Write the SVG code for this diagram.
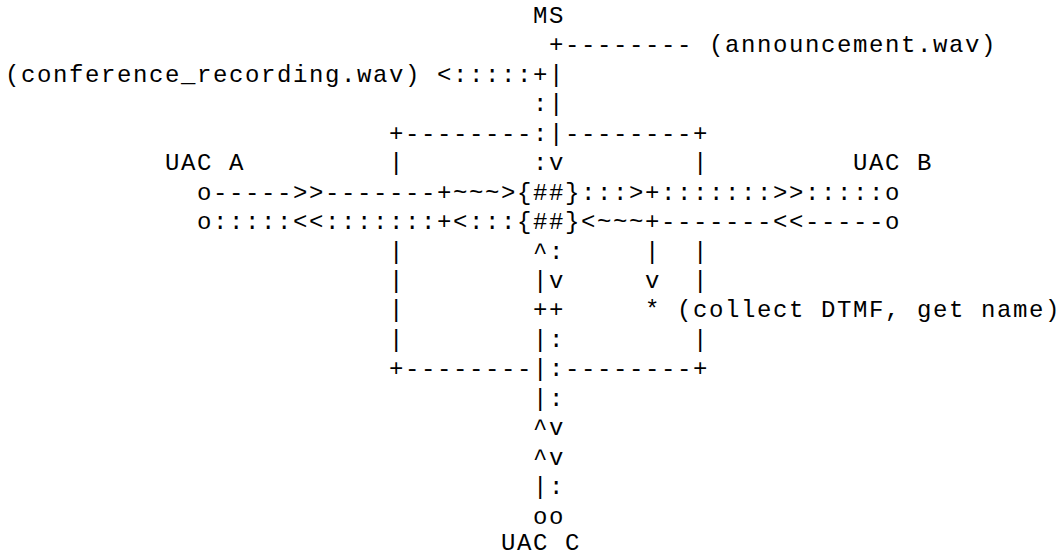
<svg xmlns="http://www.w3.org/2000/svg" width="1060" height="557" viewBox="0 0 1060 557">
<style>
text{font-family:"Liberation Mono","Courier New",monospace;font-size:24px;letter-spacing:1.6px;fill:#000;white-space:pre}
</style>
<rect x="0" y="0" width="1060" height="557" fill="#fff"/>
<g id="node-ms"><text x="533" y="23">MS</text></g>
<g id="node-announcement"><text x="709" y="52.4">(announcement.wav)</text></g>
<g id="node-recording"><text x="5" y="81.9">(conference_recording.wav)</text></g>
<g id="node-uac-a"><text x="165" y="170.2">UAC A</text></g>
<g id="node-uac-b"><text x="853" y="170.2">UAC B</text></g>
<g id="node-mixer-1"><text x="517" y="199.6">{##}</text></g>
<g id="node-mixer-2"><text x="517" y="229.1">{##}</text></g>
<g id="node-collect"><text x="677" y="317.4">(collect DTMF, get name)</text></g>
<g id="node-uac-c"><text x="501" y="550">UAC C</text></g>
<g id="connectors">
<text x="549" y="52.4">+--------</text>
<text x="437" y="81.9">&lt;:::::+|</text>
<text x="533" y="111.3">:|</text>
<text x="389" y="140.8">+--------:|--------+</text>
<text x="389" y="170.2">|</text>
<text x="533" y="170.2">:v</text>
<text x="693" y="170.2">|</text>
<text x="197" y="199.6">o-----&gt;&gt;-------+~~~&gt;</text>
<text x="581" y="199.6">:::&gt;+:::::::&gt;&gt;:::::o</text>
<text x="197" y="229.1">o:::::&lt;&lt;:::::::+&lt;:::</text>
<text x="581" y="229.1">&lt;~~~+-------&lt;&lt;-----o</text>
<text x="389" y="258.5">|</text>
<text x="533" y="258.5">^:</text>
<text x="645" y="258.5">|</text>
<text x="693" y="258.5">|</text>
<text x="389" y="288">|</text>
<text x="533" y="288">|v</text>
<text x="645" y="288">v</text>
<text x="693" y="288">|</text>
<text x="389" y="317.4">|</text>
<text x="533" y="317.4">++</text>
<text x="645" y="317.4">*</text>
<text x="389" y="346.8">|</text>
<text x="533" y="346.8">|:</text>
<text x="693" y="346.8">|</text>
<text x="389" y="376.3">+--------|:--------+</text>
<text x="533" y="405.7">|:</text>
<text x="533" y="435.2">^v</text>
<text x="533" y="464.6">^v</text>
<text x="533" y="494">|:</text>
<text x="533" y="523.5">oo</text>
</g>
</svg>
